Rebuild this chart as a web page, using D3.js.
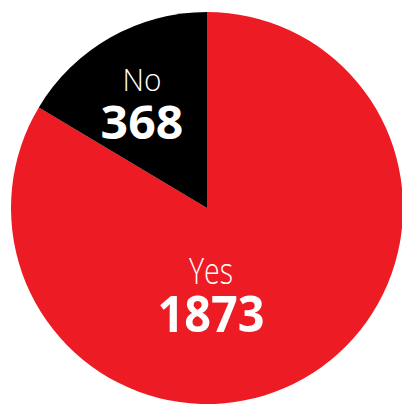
<!DOCTYPE html>
<html>
<head>
<meta charset="utf-8">
<script src="https://cdn.jsdelivr.net/npm/d3@7"></script>
<style>
html,body{margin:0;padding:0;background:#fff;}
svg{display:block;}
</style>
</head>
<body>
<svg id="chart" width="402" height="405"></svg>
<script>
const categories = ["Yes", "No"];
const values = [1873, 368];
const colors = ["#ED1C24", "#000000"];

const svg = d3.select("#chart");
const cx = 207, cy = 208, r = 196;
const g = svg.append("g").attr("transform", `translate(${cx},${cy})`);

const data = categories.map((c, i) => ({cat: c, val: values[i], color: colors[i]}));
const pie = d3.pie().value(d => d.val).sort(null);
const arcs = pie(data);
const arc = d3.arc().innerRadius(0).outerRadius(r);

g.selectAll("path").data(arcs).enter().append("path")
  .attr("d", arc)
  .attr("fill", d => d.data.color);

// label positions
const labelArc = d3.arc().innerRadius(134).outerRadius(134);
const pos = arcs.map(a => {
  if (a.data.cat === "No") {
    const c = labelArc.centroid(a);
    return [c[0] + 1, c[1]];
  }
  return [4, 76];
});

const nameStyle = [
  {size: 36, len: 44},
  {size: 31, len: 39}
];
const valStyle = [
  {size: 50, len: 107, dy: 47.7},
  {size: 46, len: 82.6, dy: 47.7}
];

arcs.forEach((a, i) => {
  const [x, y] = pos[i];
  const t = g.append("text")
    .attr("text-anchor", "middle")
    .attr("font-family", "'Open Sans', sans-serif")
    .attr("fill", "#fff");
  t.append("tspan")
    .attr("x", x).attr("y", y)
    .attr("font-weight", 300)
    .attr("font-size", nameStyle[i].size)
    .attr("textLength", nameStyle[i].len)
    .attr("lengthAdjust", "spacingAndGlyphs")
    .text(a.data.cat);
  t.append("tspan")
    .attr("x", x).attr("y", y + valStyle[i].dy)
    .attr("font-weight", 700)
    .attr("font-size", valStyle[i].size)
    .attr("textLength", valStyle[i].len)
    .attr("lengthAdjust", "spacingAndGlyphs")
    .text(d3.format("d")(a.data.val));
});
</script>
</body>
</html>
